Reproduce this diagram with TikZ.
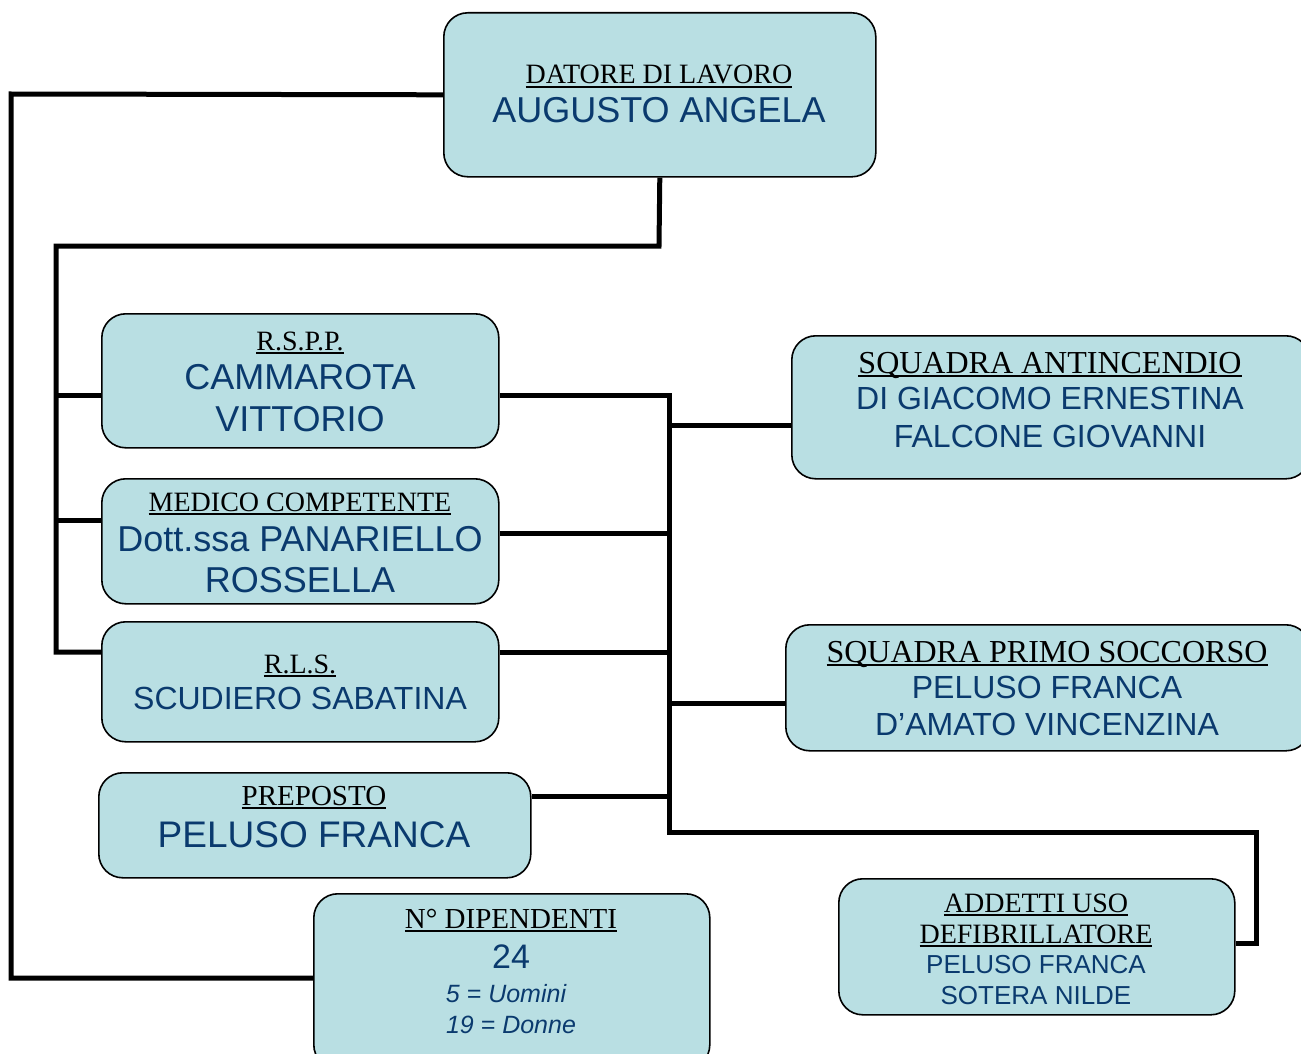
\documentclass[tikz,border=0pt]{standalone}
\usepackage{fontspec}
\setmainfont{Liberation Serif}
\newfontfamily\arialf{Liberation Sans}
\definecolor{boxfill}{HTML}{B9DFE3}
\definecolor{navy}{HTML}{0A3A6E}
\newsavebox\ulbx
\newcommand\myul[1]{\sbox\ulbx{#1}\rlap{\usebox\ulbx}\rule[-3.6pt]{\wd\ulbx}{1.7pt}}
\newcommand\fs[1]{\fontsize{#1}{#1}\selectfont}
\tikzset{
  box/.style={draw=black, line width=1.6pt, fill=boxfill, rounded corners=24pt, anchor=north west, inner sep=0pt},
  conn/.style={draw=black, line width=5pt, line join=miter},
  hd/.style={anchor=base, inner sep=0pt, text=black},
  nm/.style={anchor=base, inner sep=0pt, text=navy, font=\arialf},
}
\begin{document}
\begin{tikzpicture}[x=1pt,y=-1pt]
\useasboundingbox (0,0) rectangle (1301,1054);
\clip (0,0) rectangle (1301,1054);
% boxes
\node[box, minimum width=432pt, minimum height=164pt] (datore) at (443,12) {};
\node[box, minimum width=397pt, minimum height=134pt] (rspp) at (101,313) {};
\node[box, minimum width=397pt, minimum height=125pt] (medico) at (101,478) {};
\node[box, minimum width=397pt, minimum height=120pt] (rls) at (101,621) {};
\node[box, minimum width=432pt, minimum height=105pt] (prep) at (98,772) {};
\node[box, minimum width=396pt, minimum height=175pt] (ndip) at (313,893) {};
\node[box, minimum width=518pt, minimum height=143pt] (antinc) at (791,335) {};
\node[box, minimum width=524pt, minimum height=126pt] (primo) at (785,624) {};
\node[box, minimum width=396pt, minimum height=136pt] (addetti) at (838,878) {};
% junction coordinates
\coordinate (lt) at (11,94);
\coordinate (lb) at (11,978);
\coordinate (j1) at (659,246);
\coordinate (j2) at (56,246);
\coordinate (j3) at (56,652);
\coordinate (j4) at (56,395);
\coordinate (j5) at (56,520);
\coordinate (r1) at (669,395);
\coordinate (r2) at (669,832);
\coordinate (r3) at (1256,832);
\coordinate (r4) at (1256,943);
\coordinate (r5) at (669,533);
\coordinate (r6) at (669,652);
\coordinate (r7) at (669,796);
\coordinate (r8) at (669,425);
\coordinate (r9) at (669,703);
% connectors
\draw[conn] (datore.west) -- (lt) -- (lb) -- (ndip.west |- lb);
\draw[conn] (datore.south) -- (j1) -- (j2) -- (j3) -- (rls.west |- j3);
\draw[conn] (j4) -- (rspp.west |- j4);
\draw[conn] (j5) -- (medico.west |- j5);
\draw[conn] (rspp.east |- r1) -- (r1) -- (r2) -- (r3) -- (r4) -- (addetti.east |- r4);
\draw[conn] (medico.east |- r5) -- (r5);
\draw[conn] (rls.east |- r6) -- (r6);
\draw[conn] (prep.east |- r7) -- (r7);
\draw[conn] (r8) -- (antinc.west |- r8);
\draw[conn] (r9) -- (primo.west |- r9);
% texts
\node[hd] (t1) at (659,84) {\fs{28}\myul{DATORE DI LAVORO}};
\node[nm] (t2) at (659,123) {\fs{36}AUGUSTO ANGELA};
\node[hd] (t3) at (300,350) {\fs{28}\myul{R.S.P.P.}};
\node[nm] (t4) at (300,389) {\fs{36}CAMMAROTA};
\node[nm] (t5) at (300,431) {\fs{36}VITTORIO};
\node[hd] (t6) at (300,511) {\fs{28}\myul{MEDICO COMPETENTE}};
\node[nm] (t7) at (300,551) {\fs{36}Dott.ssa PANARIELLO};
\node[nm] (t8) at (300,592) {\fs{36}ROSSELLA};
\node[hd] (t9) at (300,673) {\fs{28}\myul{R.L.S.}};
\node[nm] (t10) at (300,709) {\fs{32}SCUDIERO SABATINA};
\node[hd] (t11) at (314,805) {\fs{29}\myul{PREPOSTO}};
\node[nm] (t12) at (314,847) {\fs{37}PELUSO FRANCA};
\node[hd] (t13) at (511,928) {\fs{29}\myul{N° DIPENDENTI}};
\node[nm] (t14) at (511,968) {\fs{34}24};
\node[nm] (t15) at (506,1002) {\fs{25}\itshape 5 = Uomini};
\node[nm] (t16) at (511,1033) {\fs{25}\itshape 19 = Donne};
\node[hd] (t17) at (1050,373) {\fs{32}\myul{SQUADRA ANTINCENDIO}};
\node[nm] (t18) at (1050,409) {\fs{32}DI GIACOMO ERNESTINA};
\node[nm] (t19) at (1050,447) {\fs{32}FALCONE GIOVANNI};
\node[hd] (t20) at (1047,662) {\fs{32}\myul{SQUADRA PRIMO SOCCORSO}};
\node[nm] (t21) at (1047,698) {\fs{32}PELUSO FRANCA};
\node[nm] (t22) at (1047,735) {\fs{32}D’AMATO VINCENZINA};
\node[hd] (t23) at (1036,912) {\fs{28}\myul{ADDETTI USO}};
\node[hd] (t24) at (1036,943) {\fs{28}\myul{DEFIBRILLATORE}};
\node[nm] (t25) at (1036,973) {\fs{26}PELUSO FRANCA};
\node[nm] (t26) at (1036,1004) {\fs{26}SOTERA NILDE};
\end{tikzpicture}
\end{document}
